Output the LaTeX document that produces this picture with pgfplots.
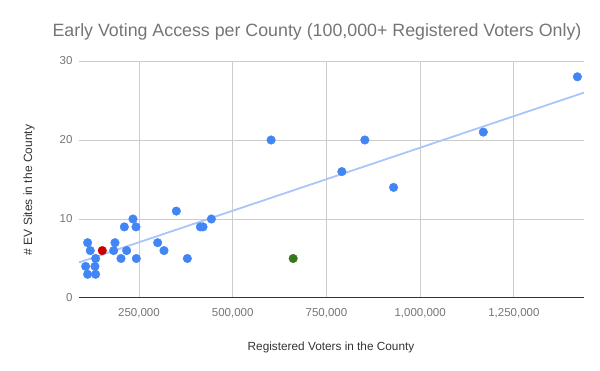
\documentclass[border=0pt]{standalone}
\usepackage{fontspec}
\setmainfont{Liberation Sans}
\usepackage{pgfplots}
\pgfplotsset{compat=1.18}
\definecolor{ptblue}{HTML}{4285F4}
\definecolor{ptred}{HTML}{CC0000}
\definecolor{ptgreen}{HTML}{38761D}
\definecolor{trend}{HTML}{A8C6F8}
\definecolor{gridc}{HTML}{CCCCCC}
\definecolor{ticktext}{HTML}{757575}
\definecolor{labeltext}{HTML}{333333}
\begin{document}
\begin{tikzpicture}[x=1pt,y=1pt]
\path[use as bounding box] (-79,-73) rectangle (521,298);
\begin{axis}[
  at={(0,0)}, anchor=south west,
  scale only axis, width=505pt, height=237pt,
  xmin=90000, xmax=1437000, ymin=0, ymax=30,
  xtick={250000,500000,750000,1000000,1250000},
  ytick={10,20,30},
  extra y ticks={0},
  extra y tick style={grid style={black!80, line width=1pt}},
  scaled x ticks=false,
  /pgf/number format/.cd, fixed, 1000 sep={,}, assume math mode=true,
  /pgfplots/.cd,
  xticklabel style={font=\fontsize{11.5}{13}\selectfont, text=ticktext, yshift=-7pt},
  yticklabel style={font=\fontsize{11.5}{13}\selectfont, text=ticktext, xshift=-3pt},
  major tick length=0pt,
  grid=major, grid style={gridc, line width=0.8pt},
  axis line style={draw=none},
]
\addplot[trend, line width=1.8pt] coordinates {(90000,4.5) (1437000,26.0)};
\addplot[only marks, mark=*, mark size=4.3pt, mark options={draw=ptblue, fill=ptblue}] coordinates {
(113000,7) (120100,6) (107650,4) (113000,3) (134300,5) (132600,4) (134300,3)
(182400,6) (186000,7) (202000,5) (210900,9) (217100,6) (234000,10) (242000,9)
(242900,5) (299800,7) (316700,6) (349600,11) (379000,5) (413700,9) (420800,9)
(443100,10) (602400,20) (791100,16) (852400,20) (929000,14) (1168400,21) (1419400,28)
};
\addplot[only marks, mark=*, mark size=4.3pt, mark options={draw=ptred, fill=ptred}] coordinates {(152100,6)};
\addplot[only marks, mark=*, mark size=4.3pt, mark options={draw=ptgreen, fill=ptgreen}] coordinates {(661300,5)};
\end{axis}
\node[text=ticktext, font=\fontsize{17.8}{20}\selectfont] at (238,266) {Early Voting Access per County (100,000+ Registered Voters Only)};
\node[rotate=90, text=labeltext, font=\fontsize{12}{14}\selectfont] at (-50,108) {\# EV Sites in the County};
\node[text=labeltext, font=\fontsize{11.8}{14}\selectfont] at (252,-49) {Registered Voters in the County};
\end{tikzpicture}
\end{document}
